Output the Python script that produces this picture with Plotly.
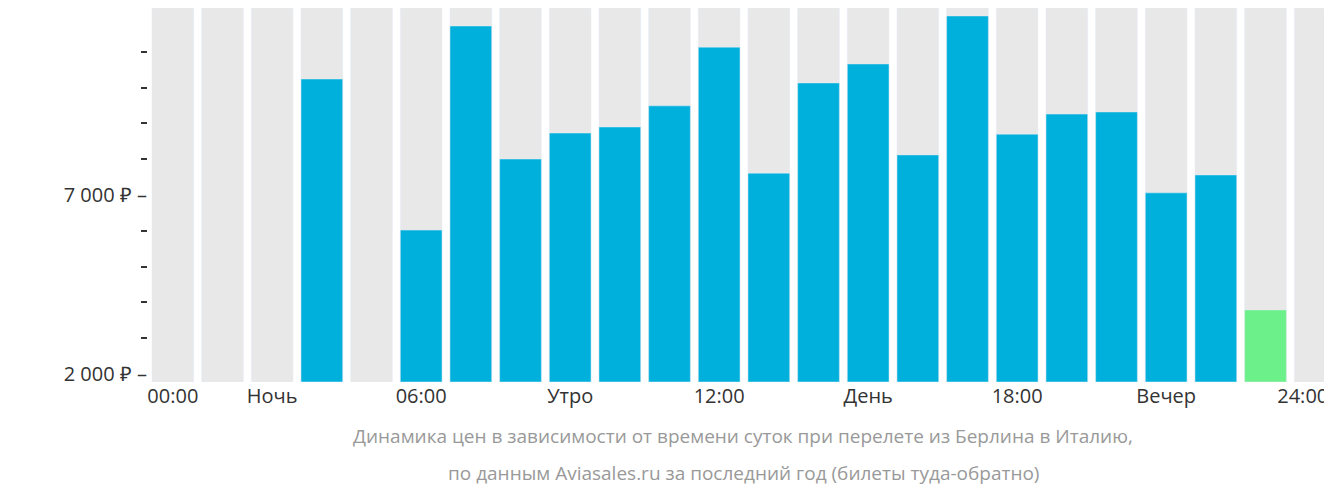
import plotly.graph_objects as go

hours = list(range(24))
prices = [None, None, None, 10240, None, 6020, 11720, 8005, 8730, 8900, 9490, 11130,
          7610, 10130, 10660, 8120, 12000, 8700, 9260, 9320, 7060, 7560, 3790, None]
cheapest = 22
tick_pos = [0, 2, 5, 8, 11, 14, 17, 20, 22.75]
tick_text = ["00:00", "Ночь", "06:00", "Утро", "12:00", "День", "18:00", "Вечер", "24:00"]
y_ticks = [2000, 7000, 12000]
y_labels = ["2 000 ₽", "7 000 ₽", "12 000 ₽"]

ymin, ymax = 1777, 12223
fig = go.Figure()
fig.add_bar(x=hours, y=[ymax - ymin] * 24, base=ymin, marker_color="#e8e8e8", hoverinfo="skip")
xs = [h for h, p in zip(hours, prices) if p is not None]
ys = [p for p in prices if p is not None]
colors = ["#6cf08a" if h == cheapest else "#00b0dc" for h in xs]
fig.add_bar(x=xs, y=[v - ymin for v in ys], base=ymin, marker_color=colors)
fig.update_layout(
    width=1332, height=502, barmode="overlay", bargap=0.16, showlegend=False,
    plot_bgcolor="white", paper_bgcolor="white",
    margin=dict(l=140, r=0, t=0, b=128),
    font=dict(family="Open Sans", size=20, color="#333"),
    xaxis=dict(range=[-0.5, 23.5], tickvals=tick_pos, ticktext=tick_text, showgrid=False,
               zeroline=False, ticks="", ticklen=0),
    yaxis=dict(range=[ymin, ymax], tickvals=y_ticks, ticktext=[t + " –" for t in y_labels],
               showgrid=False, zeroline=False, ticks="",
               minor=dict(tickvals=[3000, 4000, 5000, 6000, 8000, 9000, 10000, 11000],
                          ticks="outside", ticklen=6, tickcolor="#333", tickwidth=1.5)),
)
fig.add_annotation(text="Динамика цен в зависимости от времени суток при перелете из Берлина в Италию,",
                   x=0.5, xref="paper", y=-60, yref="y domain", showarrow=False)
for i, t in enumerate(["Динамика цен в зависимости от времени суток при перелете из Берлина в Италию,",
                       "по данным Aviasales.ru за последний год (билеты туда-обратно)"]):
    pass
fig.layout.annotations = []
fig.add_annotation(text="Динамика цен в зависимости от времени суток при перелете из Берлина в Италию,",
                   x=(735 - 140) / 1192, xref="paper", y=-(443 - 374) / 374, yref="paper",
                   showarrow=False, font=dict(size=19, color="#999"))
fig.add_annotation(text="по данным Aviasales.ru за последний год (билеты туда-обратно)",
                   x=(735 - 140) / 1192, xref="paper", y=-(480 - 374) / 374, yref="paper",
                   showarrow=False, font=dict(size=19, color="#999"))
fig.write_html("out.html")
